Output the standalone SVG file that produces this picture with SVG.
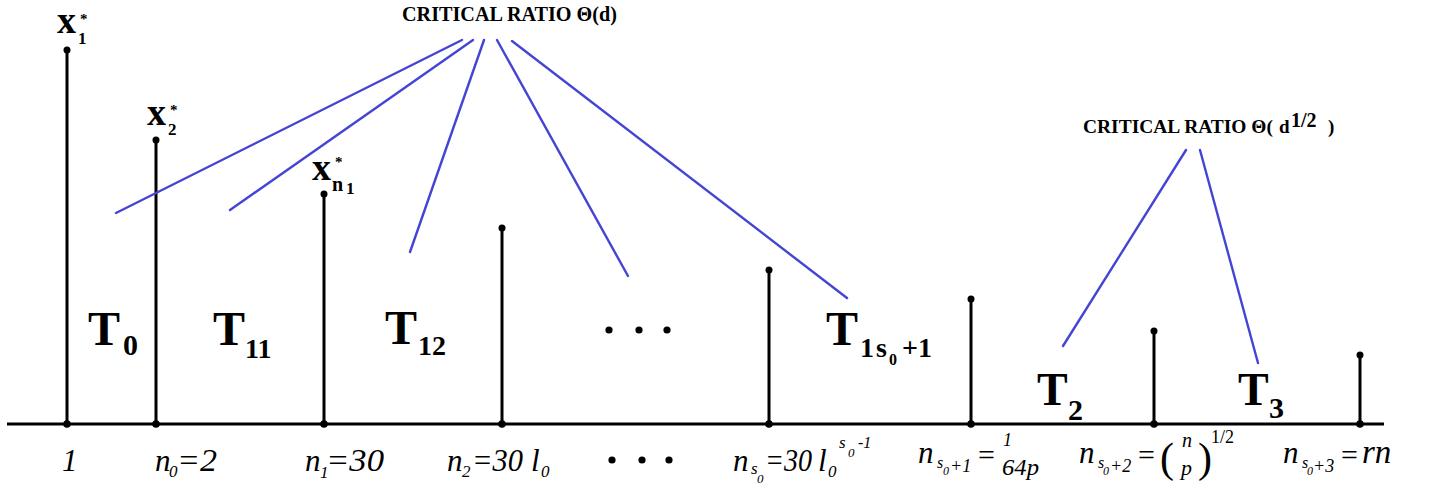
<svg xmlns="http://www.w3.org/2000/svg" width="1429" height="485" viewBox="0 0 1429 485">
<style>
.stem{stroke:#000;stroke-width:3;fill:none}
.dot{fill:#000}
.blue{stroke:#4545d4;stroke-width:2.4;fill:none;stroke-linecap:round}
.b{font-family:"Liberation Serif","Times New Roman",serif;font-weight:bold;fill:#000}
.i{font-family:"Liberation Serif","Times New Roman",serif;font-style:italic;fill:#000}
.r{font-family:"Liberation Serif","Times New Roman",serif;fill:#000}
</style>
<rect width="1429" height="485" fill="#fff"/>

<g id="axis">
<line class="stem" x1="7" y1="424" x2="1384" y2="424"/>
</g>

<g id="stem-1">
<line class="stem" x1="67" y1="50" x2="67" y2="424"/>
<circle class="dot" cx="67" cy="50" r="3.5"/><circle class="dot" cx="67" cy="424" r="3.8"/>
<text class="b" x="57" y="33" font-size="38">x</text>
<text class="b" x="78" y="44" font-size="17">1</text>
<text class="b" x="80" y="24" font-size="15">*</text>
<text class="i" x="62" y="471" font-size="31">1</text>
</g>

<g id="stem-n0">
<line class="stem" x1="156" y1="140" x2="156" y2="424"/>
<circle class="dot" cx="156" cy="140" r="3.5"/><circle class="dot" cx="156" cy="424" r="3.8"/>
<text class="b" x="147" y="125" font-size="38">x</text>
<text class="b" x="168" y="135" font-size="17">2</text>
<text class="b" x="170" y="115" font-size="15">*</text>
<text class="i" x="155" y="471" font-size="31">n</text>
<text class="i" x="169" y="477" font-size="17">0</text>
<text class="i" x="177" y="471" font-size="31" textLength="40" lengthAdjust="spacingAndGlyphs">=2</text>
</g>

<g id="stem-n1">
<line class="stem" x1="324" y1="194" x2="324" y2="424"/>
<circle class="dot" cx="324" cy="194" r="3.5"/><circle class="dot" cx="324" cy="424" r="3.8"/>
<text class="b" x="312" y="180" font-size="38">x</text>
<text class="b" x="332" y="191" font-size="20">n</text>
<text class="b" x="346" y="194" font-size="17">1</text>
<text class="b" x="335" y="167" font-size="15">*</text>
<text class="i" x="305" y="471" font-size="31">n</text>
<text class="i" x="320" y="478" font-size="17">1</text>
<text class="i" x="326" y="471" font-size="31" textLength="58" lengthAdjust="spacingAndGlyphs">=30</text>
</g>

<g id="stem-n2">
<line class="stem" x1="502" y1="228" x2="502" y2="424"/>
<circle class="dot" cx="502" cy="228" r="3.5"/><circle class="dot" cx="502" cy="424" r="3.8"/>
<text class="i" x="447" y="471" font-size="31">n</text>
<text class="i" x="462" y="477" font-size="17">2</text>
<text class="i" x="472" y="471" font-size="31" textLength="51" lengthAdjust="spacingAndGlyphs">=30</text>
<text class="i" x="531" y="471" font-size="31">l</text>
<text class="i" x="541" y="477" font-size="17">0</text>
</g>

<g id="ellipsis-axis">
<circle class="dot" cx="612" cy="460" r="3.6"/>
<circle class="dot" cx="642" cy="460" r="3.6"/>
<circle class="dot" cx="669" cy="460" r="3.6"/>
</g>

<g id="stem-ns0">
<line class="stem" x1="769" y1="270" x2="769" y2="424"/>
<circle class="dot" cx="769" cy="270" r="3.5"/><circle class="dot" cx="769" cy="424" r="3.8"/>
<text class="i" x="733" y="471" font-size="31">n</text>
<text class="i" x="751" y="474" font-size="17">s</text>
<text class="i" x="757" y="483" font-size="13">0</text>
<text class="i" x="765" y="471" font-size="31" textLength="47" lengthAdjust="spacingAndGlyphs">=30</text>
<text class="i" x="818" y="471" font-size="31">l</text>
<text class="i" x="828" y="477" font-size="17">0</text>
<text class="i" x="839" y="448" font-size="17">s</text>
<text class="i" x="848" y="457" font-size="13">0</text>
<text class="i" x="858" y="448" font-size="16">-1</text>
</g>

<g id="stem-ns0p1">
<line class="stem" x1="971" y1="299" x2="971" y2="424"/>
<circle class="dot" cx="971" cy="299" r="3.5"/><circle class="dot" cx="971" cy="424" r="3.8"/>
<text class="i" x="918" y="463" font-size="31">n</text>
<text class="i" x="937" y="468" font-size="16">s</text>
<text class="i" x="943" y="475" font-size="12">0</text>
<text class="i" x="950" y="472" font-size="18">+1</text>
<text class="r" x="978" y="465" font-size="30">=</text>
<text class="i" x="1003" y="446" font-size="18">1</text>
<text class="i" x="1002" y="475" font-size="24" textLength="37" lengthAdjust="spacingAndGlyphs">64p</text>
</g>

<g id="stem-ns0p2">
<line class="stem" x1="1154" y1="331" x2="1154" y2="424"/>
<circle class="dot" cx="1154" cy="331" r="3.5"/><circle class="dot" cx="1154" cy="424" r="3.8"/>
<text class="i" x="1079" y="463" font-size="31">n</text>
<text class="i" x="1098" y="468" font-size="16">s</text>
<text class="i" x="1103" y="475" font-size="12">0</text>
<text class="i" x="1110" y="472" font-size="18">+2</text>
<text class="r" x="1138" y="465" font-size="30">=</text>
<text class="r" x="1160" y="472" font-size="42">(</text>
<text class="i" x="1182" y="447" font-size="20">n</text>
<text class="i" x="1181" y="475" font-size="22">p</text>
<text class="r" x="1198" y="472" font-size="42">)</text>
<text class="r" x="1211" y="443" font-size="18">1/2</text>
</g>

<g id="stem-ns0p3">
<line class="stem" x1="1360" y1="355" x2="1360" y2="424"/>
<circle class="dot" cx="1360" cy="355" r="3.5"/><circle class="dot" cx="1360" cy="424" r="3.8"/>
<text class="i" x="1283" y="463" font-size="31">n</text>
<text class="i" x="1302" y="468" font-size="16">s</text>
<text class="i" x="1307" y="475" font-size="12">0</text>
<text class="i" x="1313" y="472" font-size="18">+3</text>
<text class="r" x="1341" y="465" font-size="30">=</text>
<text class="i" x="1362" y="463" font-size="33">rn</text>
</g>

<g id="title-d">
<text class="b" x="402" y="21" font-size="20" textLength="215" lengthAdjust="spacingAndGlyphs">CRITICAL RATIO Θ(d)</text>
</g>

<g id="title-sqrt">
<text class="b" x="1083" y="133" font-size="19" textLength="190" lengthAdjust="spacingAndGlyphs">CRITICAL RATIO Θ(</text>
<text class="b" x="1279" y="133" font-size="19">d</text>
<text class="b" x="1291" y="127" font-size="20">1/2</text>
<text class="b" x="1328" y="133" font-size="19">)</text>
</g>

<g id="T0"><text class="b" x="88" y="345" font-size="48">T</text><text class="b" x="123" y="355" font-size="30">0</text></g>
<g id="T11"><text class="b" x="213" y="345" font-size="48">T</text><text class="b" x="245" y="358" font-size="28">11</text></g>
<g id="T12"><text class="b" x="385" y="344" font-size="48">T</text><text class="b" x="418" y="355" font-size="28">12</text></g>
<g id="dots-mid">
<circle class="dot" cx="609" cy="330" r="3.6"/>
<circle class="dot" cx="639" cy="330" r="3.6"/>
<circle class="dot" cx="667" cy="330" r="3.6"/>
</g>
<g id="T1s0p1">
<text class="b" x="826" y="345" font-size="48">T</text>
<text class="b" x="860" y="357" font-size="28">1</text>
<text class="b" x="876" y="357" font-size="28">s</text>
<text class="b" x="889" y="365" font-size="16">0</text>
<text class="b" x="902" y="357" font-size="28">+1</text>
</g>
<g id="T2"><text class="b" x="1037" y="405" font-size="46">T</text><text class="b" x="1068" y="420" font-size="30">2</text></g>
<g id="T3"><text class="b" x="1238" y="405" font-size="46">T</text><text class="b" x="1269" y="418" font-size="30">3</text></g>

<g id="connectors">
<line class="blue" x1="462" y1="40" x2="116" y2="213"/>
<line class="blue" x1="473" y1="40" x2="230" y2="210"/>
<line class="blue" x1="484" y1="40" x2="410" y2="252"/>
<line class="blue" x1="497" y1="40" x2="628" y2="276"/>
<line class="blue" x1="512" y1="41" x2="847" y2="298"/>
<line class="blue" x1="1186" y1="150" x2="1063" y2="346"/>
<line class="blue" x1="1200" y1="150" x2="1258" y2="363"/>
</g>
</svg>
